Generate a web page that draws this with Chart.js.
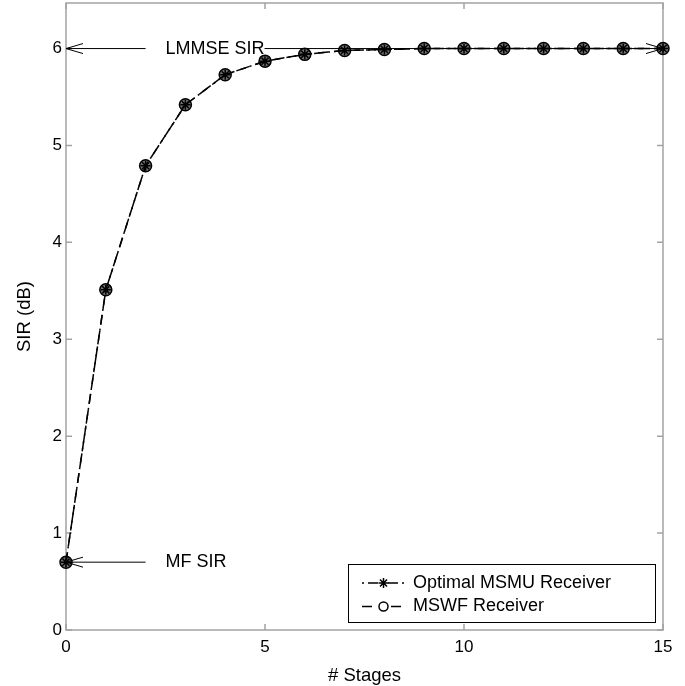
<!DOCTYPE html>
<html>
<head>
<meta charset="utf-8">
<script src="https://cdn.jsdelivr.net/npm/chart.js@4/dist/chart.umd.min.js"></script>
<style>
  html, body { margin: 0; padding: 0; background: #fff; }
  canvas { display: block; }
</style>
</head>
<body>
<canvas id="sirChart" width="685" height="686"></canvas>
<script>
// SIR per stage for both receivers
const stages = [0, 1, 2, 3, 4, 5, 6, 7, 8, 9, 10, 11, 12, 13, 14, 15];
const msmuSir = [0.70, 3.51, 4.79, 5.42, 5.73, 5.87, 5.94, 5.98, 5.99, 6.00, 6.00, 6.00, 6.00, 6.00, 6.00, 6.00];
const mswfSir = [0.70, 3.51, 4.79, 5.42, 5.73, 5.87, 5.94, 5.98, 5.99, 6.00, 6.00, 6.00, 6.00, 6.00, 6.00, 6.00];

const xTicks = [0, 5, 10, 15];
const yTicks = [0, 1, 2, 3, 4, 5, 6];

// reference levels marked with arrows
const mfSir = 0.70;
const lmmseSir = 6.00;

const FONT = "'Liberation Sans', Arial, Helvetica, sans-serif";

function toPoints(ys) {
  return stages.map((s, i) => ({ x: s, y: ys[i] }));
}

function arrowHead(ctx, tipX, tipY, dir) {
  // open V head, dir = -1 points left, +1 points right
  ctx.beginPath();
  ctx.moveTo(tipX - dir * 17, tipY - 5);
  ctx.lineTo(tipX, tipY);
  ctx.lineTo(tipX - dir * 17, tipY + 5);
  ctx.stroke();
}

const framePlugin = {
  id: 'frame',
  beforeDatasetsDraw(chart) {
    const { ctx, chartArea: a, scales: { x, y } } = chart;
    ctx.save();
    ctx.strokeStyle = '#a3a3a3';
    ctx.lineWidth = 1.5;
    ctx.strokeRect(a.left, a.top, a.right - a.left, a.bottom - a.top);
    const len = 6;
    ctx.beginPath();
    xTicks.forEach(v => {
      const px = x.getPixelForValue(v);
      ctx.moveTo(px, a.bottom); ctx.lineTo(px, a.bottom - len);
      ctx.moveTo(px, a.top); ctx.lineTo(px, a.top + len);
    });
    yTicks.forEach(v => {
      const py = y.getPixelForValue(v);
      ctx.moveTo(a.left, py); ctx.lineTo(a.left + len, py);
      ctx.moveTo(a.right, py); ctx.lineTo(a.right - len, py);
    });
    ctx.stroke();
    ctx.restore();
  }
};

const notesPlugin = {
  id: 'notes',
  afterDatasetsDraw(chart) {
    const { ctx, chartArea: a, scales: { x, y } } = chart;
    ctx.save();
    ctx.strokeStyle = '#000';
    ctx.lineWidth = 1;
    ctx.fillStyle = '#000';
    ctx.font = '18px ' + FONT;
    ctx.textBaseline = 'middle';
    ctx.textAlign = 'left';

    const x0 = x.getPixelForValue(0);
    const xEnd = x.getPixelForValue(2.0);
    const xText = x.getPixelForValue(2.5);

    // LMMSE SIR: double arrow across the plot, broken by the label
    const yL = y.getPixelForValue(lmmseSir);
    ctx.beginPath();
    ctx.moveTo(x0, yL); ctx.lineTo(xEnd, yL);
    ctx.stroke();
    arrowHead(ctx, x0, yL, -1);
    ctx.fillText('LMMSE SIR', xText, yL);
    const tw = ctx.measureText('LMMSE SIR').width;
    const x15 = x.getPixelForValue(15);
    ctx.beginPath();
    ctx.moveTo(xText + tw, yL); ctx.lineTo(x15, yL);
    ctx.stroke();
    arrowHead(ctx, x15, yL, 1);

    // MF SIR
    const yM = y.getPixelForValue(mfSir);
    ctx.beginPath();
    ctx.moveTo(x0, yM); ctx.lineTo(xEnd, yM);
    ctx.stroke();
    arrowHead(ctx, x0, yM, -1);
    ctx.fillText('MF SIR', xText, yM);

    // legend box in the lower right corner
    const bw = 307, bh = 58;
    const bx = a.right - 8 - bw, by = a.bottom - 66;
    ctx.fillStyle = '#fff';
    ctx.fillRect(bx, by, bw, bh);
    ctx.strokeStyle = '#000';
    ctx.lineWidth = 1;
    ctx.strokeRect(bx + 0.5, by + 0.5, bw, bh);
    chart.data.datasets.forEach((ds, i) => {
      const ry = by + 19 + i * 23.5;
      ctx.save();
      ctx.lineWidth = ds.borderWidth;
      ctx.setLineDash(ds.legendDash);
      ctx.beginPath();
      ctx.moveTo(bx + 14, ry); ctx.lineTo(bx + 57, ry);
      ctx.stroke();
      ctx.setLineDash([]);
      ctx.fillStyle = '#fff';
      Chart.helpers.drawPoint(ctx, {
        pointStyle: ds.pointStyle,
        radius: ds.legendRadius,
        borderWidth: ds.pointBorderWidth,
        rotation: 0
      }, bx + 35.5, ry);
      ctx.restore();
      ctx.fillStyle = '#000';
      ctx.fillText(ds.label, bx + 65, ry);
    });
    ctx.restore();
  }
};

new Chart(document.getElementById('sirChart'), {
  type: 'line',
  data: {
    datasets: [
      {
        label: 'Optimal MSMU Receiver',
        data: toPoints(msmuSir),
        borderColor: '#000',
        borderWidth: 1.5,
        borderDash: [10, 4, 2, 4],
        legendDash: [2, 4, 10, 4],
        pointStyle: 'star',
        pointRadius: 5,
        legendRadius: 5,
        pointBorderWidth: 1.5,
        pointBorderColor: '#000',
        pointBackgroundColor: '#000',
        tension: 0,
        clip: false
      },
      {
        label: 'MSWF Receiver',
        data: toPoints(mswfSir),
        borderColor: '#000',
        borderWidth: 1.5,
        borderDash: [10, 6],
        legendDash: [10, 8, 3, 8],
        pointStyle: 'circle',
        pointRadius: 6,
        legendRadius: 4.5,
        pointBorderWidth: 1.5,
        pointBorderColor: '#000',
        pointBackgroundColor: 'rgba(0,0,0,0.55)',
        tension: 0,
        clip: false
      }
    ]
  },
  options: {
    responsive: false,
    animation: false,
    layout: { autoPadding: false, padding: { top: 3, right: 22, left: 0, bottom: 0 } },
    plugins: {
      legend: { display: false },
      tooltip: { enabled: false }
    },
    scales: {
      x: {
        type: 'linear',
        min: 0,
        max: 15,
        afterBuildTicks: s => { s.ticks = xTicks.map(v => ({ value: v })); },
        afterFit: s => { s.height = 56; s.paddingLeft = 0; s.paddingRight = 0; },
        grid: { display: false },
        border: { display: false },
        ticks: { color: '#000', font: { family: FONT, size: 17 }, padding: -1, maxRotation: 0 },
        title: { display: true, text: '# Stages', color: '#000', font: { family: FONT, size: 18.5 }, padding: { top: 0, bottom: -1 } }
      },
      y: {
        type: 'linear',
        min: 0,
        max: 6.47,
        afterBuildTicks: s => { s.ticks = yTicks.map(v => ({ value: v })); },
        afterFit: s => { s.width = 66; s.paddingTop = 0; s.paddingBottom = 0; },
        grid: { display: false },
        border: { display: false },
        ticks: { color: '#000', font: { family: FONT, size: 17 }, padding: -4 },
        title: { display: true, text: 'SIR (dB)', color: '#000', font: { family: FONT, size: 18.5 }, padding: { top: 14, bottom: 0 } }
      }
    }
  },
  plugins: [framePlugin, notesPlugin]
});
</script>
</body>
</html>
